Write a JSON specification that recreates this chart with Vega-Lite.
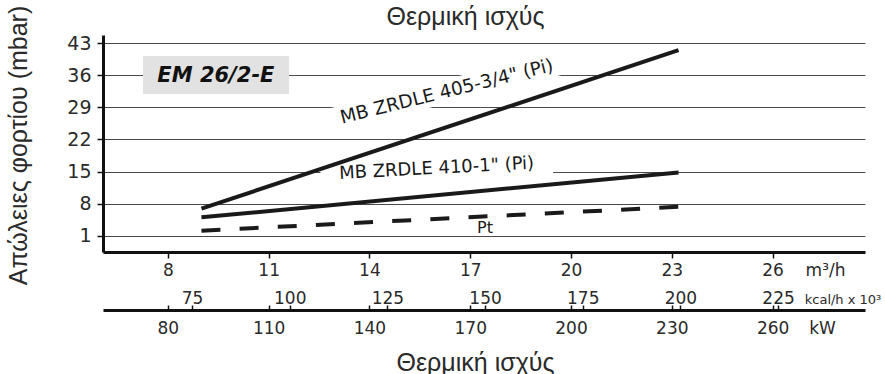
{
  "$schema": "https://vega.github.io/schema/vega-lite/v6.json",
  "width": 762,
  "height": 217,
  "autosize": {"type": "none"},
  "padding": {"left": 103, "top": 35, "right": 20, "bottom": 122},
  "background": "white",
  "config": {
    "view": {"stroke": null},
    "axis": {"labelFont": "DejaVu Sans", "labelColor": "#2a2a2a", "titleFont": "Liberation Sans", "titleFontWeight": "normal", "titleColor": "#2a2a2a"}
  },
  "datasets": {
    "lines": [
      {"series": "MB ZRDLE 405-3/4\" (Pi)", "q": 9.0, "p": 6.9},
      {"series": "MB ZRDLE 405-3/4\" (Pi)", "q": 23.2, "p": 41.5},
      {"series": "MB ZRDLE 410-1\" (Pi)", "q": 9.0, "p": 5.0},
      {"series": "MB ZRDLE 410-1\" (Pi)", "q": 23.2, "p": 14.8},
      {"series": "Pt", "q": 9.0, "p": 2.1},
      {"series": "Pt", "q": 23.2, "p": 7.3}
    ]
  },
  "layer": [
    {
      "layer": [
        {
          "data": {"values": [{"q1": 7.26, "q2": 11.61, "p1": 40.2, "p2": 31.9}]},
          "mark": {"type": "rect", "fill": "#e2e2e2"},
          "encoding": {
            "x": {
              "field": "q1", "type": "quantitative",
              "scale": {"domain": [6.07, 28.75], "nice": false, "zero": false},
              "axis": {
                "values": [8, 11, 14, 17, 20, 23, 26, 27.56],
                "tickCount": 40,
                "format": ".0f",
                "labelExpr": "datum.value > 27 ? 'm³/h' : datum.label",
                "grid": false,
                "domain": true, "domainColor": "#111", "domainWidth": 3,
                "ticks": true, "tickColor": "#111", "tickWidth": 1.5, "tickSize": 6,
                "tickOpacity": {"condition": {"test": "datum.value > 27", "value": 0}, "value": 1},
                "labelFontSize": 17, "labelPadding": 4, "labelOverlap": false, "labelFlush": false,
                "title": null
              }
            },
            "x2": {"field": "q2"},
            "y": {
              "field": "p1", "type": "quantitative",
              "scale": {"domain": [-2.56, 44.8], "nice": false, "zero": false},
              "axis": {
                "values": [1, 8, 15, 22, 29, 36, 43],
                "tickCount": 40,
                "format": ".0f",
                "grid": true, "gridColor": "#4a4a4a", "gridWidth": 1,
                "domain": true, "domainColor": "#111", "domainWidth": 3,
                "ticks": true, "tickColor": "#111", "tickWidth": 1.5, "tickSize": 6,
                "labelFontSize": 19, "labelPadding": 6, "labelOverlap": false, "labelFlush": false,
                "title": "Απώλειες φορτίου (mbar)",
                "titleFontSize": 25, "titleAngle": -90, "titleX": -85, "titleY": 110,
                "titleAlign": "center", "titleBaseline": "middle"
              }
            },
            "y2": {"field": "p2"}
          }
        },
        {
          "data": {"values": [{"label": "EM 26/2-E", "q": 9.43, "p": 34.6}]},
          "mark": {"type": "text", "font": "DejaVu Sans", "fontWeight": "bold", "fontStyle": "italic", "fontSize": 21, "color": "#111", "align": "center", "baseline": "alphabetic"},
          "encoding": {
            "x": {"field": "q", "type": "quantitative"},
            "y": {"field": "p", "type": "quantitative"},
            "text": {"field": "label"}
          }
        },
        {
          "data": {"values": [{"q": 16.3, "p": 32.5}]},
          "mark": {"type": "point", "shape": "M-1,-0.094L1,-0.094L1,0.094L-1,0.094Z", "filled": true, "fill": "white", "opacity": 1, "strokeWidth": 0, "size": 64000, "angle": -14},
          "encoding": {
            "x": {"field": "q", "type": "quantitative"},
            "y": {"field": "p", "type": "quantitative"}
          }
        },
        {
          "data": {"values": [{"q": 16.0, "p": 15.6}]},
          "mark": {"type": "point", "shape": "M-1,-0.095L1,-0.095L1,0.095L-1,0.095Z", "filled": true, "fill": "white", "opacity": 1, "strokeWidth": 0, "size": 54000, "angle": -3},
          "encoding": {
            "x": {"field": "q", "type": "quantitative"},
            "y": {"field": "p", "type": "quantitative"}
          }
        },
        {
          "data": {"name": "lines"},
          "transform": [{"filter": "datum.series != 'Pt'"}],
          "mark": {"type": "line", "color": "#1a1a1a", "strokeWidth": 4, "strokeCap": "butt"},
          "encoding": {
            "x": {"field": "q", "type": "quantitative"},
            "y": {"field": "p", "type": "quantitative"},
            "detail": {"field": "series"}
          }
        },
        {
          "data": {"name": "lines"},
          "transform": [{"filter": "datum.series == 'Pt'"}],
          "mark": {"type": "line", "color": "#1a1a1a", "strokeWidth": 4, "strokeCap": "butt", "strokeDash": [19, 19.2]},
          "encoding": {
            "x": {"field": "q", "type": "quantitative"},
            "y": {"field": "p", "type": "quantitative"}
          }
        },
        {
          "data": {"values": [{"label": "MB ZRDLE 405-3/4\" (Pi)", "q": 16.3, "p": 32.5}]},
          "mark": {"type": "text", "font": "DejaVu Sans", "fontSize": 18.5, "color": "#1a1a1a", "align": "center", "baseline": "middle", "angle": -14},
          "encoding": {
            "x": {"field": "q", "type": "quantitative"},
            "y": {"field": "p", "type": "quantitative"},
            "text": {"field": "label"}
          }
        },
        {
          "data": {"values": [{"label": "MB ZRDLE 410-1\" (Pi)", "q": 16.0, "p": 15.6}]},
          "mark": {"type": "text", "font": "DejaVu Sans", "fontSize": 18, "color": "#1a1a1a", "align": "center", "baseline": "middle", "angle": -3},
          "encoding": {
            "x": {"field": "q", "type": "quantitative"},
            "y": {"field": "p", "type": "quantitative"},
            "text": {"field": "label"}
          }
        },
        {
          "data": {"values": [{"label": "Pt", "q": 17.44, "p": 2.7}]},
          "mark": {"type": "text", "font": "DejaVu Sans", "fontSize": 16, "color": "#1a1a1a", "align": "center", "baseline": "middle"},
          "encoding": {
            "x": {"field": "q", "type": "quantitative"},
            "y": {"field": "p", "type": "quantitative"},
            "text": {"field": "label"}
          }
        }
      ]
    },
    {
      "data": {"values": [{"k": 100}]},
      "mark": {"type": "rule", "opacity": 0},
      "encoding": {
        "x": {
          "field": "k", "type": "quantitative",
          "scale": {"domain": [52.2, 247.25], "nice": false, "zero": false},
          "axis": {
            "orient": "bottom", "offset": 58,
            "values": [75, 100, 125, 150, 175, 200, 225, 241.5],
            "tickCount": 40,
            "format": ".0f",
            "labelExpr": "datum.value > 240 ? 'kcal/h x 10³' : datum.label",
            "grid": false, "domain": false,
            "ticks": true, "tickColor": "#111", "tickWidth": 1.5, "tickSize": -5,
            "tickOpacity": {"condition": {"test": "datum.value > 240", "value": 0}, "value": 1},
            "labelFontSize": {"condition": {"test": "datum.value > 240", "value": 13}, "value": 17},
            "labelBaseline": "alphabetic", "labelPadding": -2,
            "labelOverlap": false, "labelFlush": false, "labelBound": false,
            "title": null
          }
        }
      }
    },
    {
      "data": {"values": [{"w": 150}]},
      "mark": {"type": "rule", "opacity": 0},
      "encoding": {
        "x": {
          "field": "w", "type": "quantitative",
          "scale": {"domain": [60.7, 287.5], "nice": false, "zero": false},
          "axis": {
            "orient": "bottom", "offset": 58,
            "values": [80, 110, 140, 170, 200, 230, 260, 274.7],
            "tickCount": 40,
            "format": ".0f",
            "labelExpr": "datum.value > 270 ? 'kW' : datum.label",
            "grid": false,
            "domain": true, "domainColor": "#111", "domainWidth": 3,
            "ticks": true, "tickColor": "#111", "tickWidth": 1.5, "tickSize": -5,
            "tickOpacity": {"condition": {"test": "datum.value > 270", "value": 0}, "value": 1},
            "labelFontSize": 17, "labelBaseline": "alphabetic", "labelPadding": 28,
            "labelOverlap": false, "labelFlush": false, "labelBound": false,
            "title": "Θερμική ισχύς",
            "titleFontSize": 25, "titleX": 372, "titleY": 60,
            "titleAlign": "center", "titleBaseline": "alphabetic"
          }
        }
      }
    },
    {
      "data": {"values": [{"t": 0}]},
      "mark": {"type": "rule", "opacity": 0},
      "encoding": {
        "x": {
          "field": "t", "type": "quantitative",
          "scale": {"domain": [0, 1], "nice": false, "zero": false},
          "axis": {
            "orient": "top",
            "domain": false, "ticks": false, "labels": false, "grid": false,
            "title": "Θερμική ισχύς",
            "titleFontSize": 25, "titleX": 362, "titleY": -11,
            "titleAlign": "center", "titleBaseline": "alphabetic"
          }
        }
      }
    }
  ],
  "resolve": {"scale": {"x": "independent"}, "axis": {"x": "independent"}}
}
